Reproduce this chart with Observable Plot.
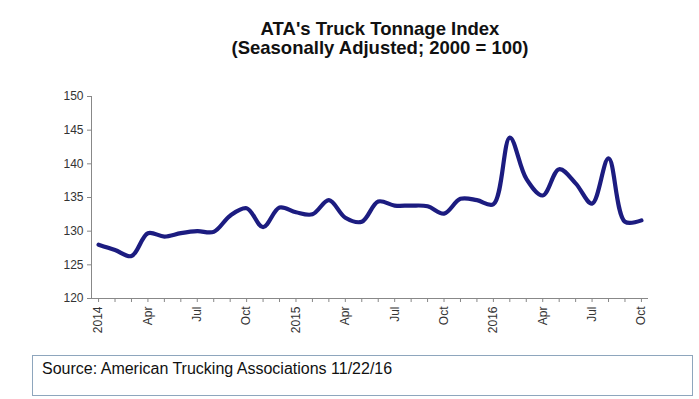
<!DOCTYPE html>
<html>
<head>
<meta charset="utf-8">
<script src="https://cdn.jsdelivr.net/npm/d3@7"></script>
<script src="https://cdn.jsdelivr.net/npm/@observablehq/plot@0.6"></script>
<style>
  html, body { margin: 0; padding: 0; background: #fff; }
  body { width: 699px; height: 399px; position: relative; overflow: hidden; font-family: "Liberation Sans", Arial, sans-serif; }
  #title { position: absolute; left: 0; top: 19px; width: 760px; text-align: center; font-weight: bold; font-size: 18.5px; line-height: 19px; color: #111; }
  #chart { position: absolute; left: 0; top: 60px; }
  #source { position: absolute; left: 32px; top: 355px; width: 661px; height: 41px; border: 1px solid #8ea6bd; box-sizing: border-box; font-size: 16px; color: #111; padding: 4px 0 0 9px; }
</style>
</head>
<body>
<div id="title">ATA's Truck Tonnage Index<br>(Seasonally Adjusted; 2000 = 100)</div>
<div id="chart"></div>
<div id="source">Source: American Trucking Associations 11/22/16</div>
<script>
// Months Jan 2014 .. Oct 2016
const monthLabels = [
  "2014","","","Apr","","","Jul","","","Oct","","",
  "2015","","","Apr","","","Jul","","","Oct","","",
  "2016","","","Apr","","","Jul","","","Oct"
];
const tonnage = [
  128.0, 127.2, 126.3, 129.7, 129.2, 129.7, 130.0, 129.9, 132.3, 133.4, 130.6, 133.5,
  132.8, 132.5, 134.6, 132.0, 131.4, 134.4, 133.8, 133.8, 133.7, 132.6, 134.8, 134.6,
  134.0, 143.9, 137.8, 135.3, 139.2, 137.1, 134.1, 140.8, 131.4, 131.6
];
const yTicks = [120, 125, 130, 135, 140, 145, 150];

const data = tonnage.map((v, i) => ({i, v}));
const xDomain = [-0.43, monthLabels.length - 1 + 0.43];

const chart = Plot.plot({
  width: 699,
  height: 283,
  marginTop: 36,
  marginBottom: 45,
  marginLeft: 91,
  marginRight: 51,
  style: {fontFamily: "'Liberation Sans', Arial, sans-serif", fontSize: "12px", color: "#333", background: "transparent"},
  x: {type: "linear", domain: xDomain, label: null},
  y: {domain: [120, 150], label: null},
  marks: [
    Plot.axisX({ticks: d3.range(monthLabels.length), tickFormat: i => monthLabels[i], tickRotate: -90, tickSize: 4, tickPadding: 4, label: null, stroke: "#888", fill: "#333"}),
    Plot.axisY({ticks: yTicks, tickSize: 4, tickPadding: 4, label: null, stroke: "#888", fill: "#333"}),
    Plot.ruleY([120], {stroke: "#888"}),
    Plot.ruleX([xDomain[0]], {stroke: "#888"}),
    Plot.line(data, {x: "i", y: "v", curve: "catmull-rom", stroke: "#1c1c80", strokeWidth: 4.2, strokeLinejoin: "round", strokeLinecap: "round"})
  ]
});
document.getElementById("chart").appendChild(chart);
</script>
</body>
</html>
